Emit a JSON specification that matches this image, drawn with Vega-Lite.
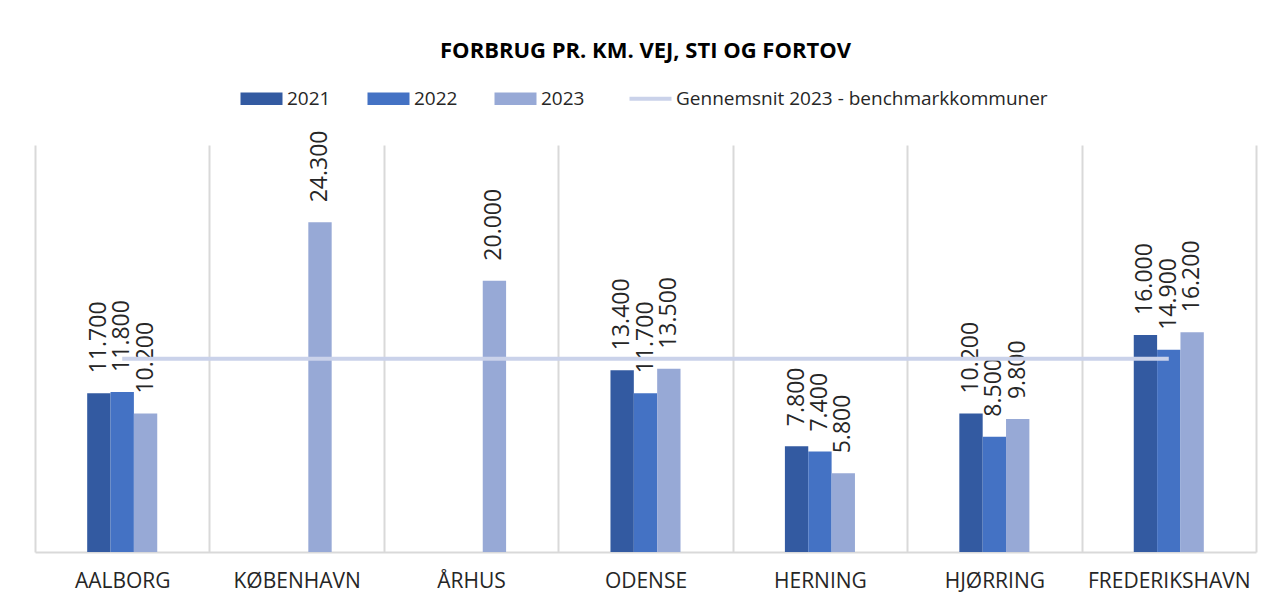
{
  "$schema": "https://vega.github.io/schema/vega-lite/v6.json",
  "autosize": "none",
  "width": 1221,
  "height": 407,
  "padding": {"left": 35, "top": 145, "right": 17, "bottom": 49},
  "background": "white",
  "title": {
    "text": "FORBRUG PR. KM. VEJ, STI OG FORTOV",
    "font": "Open Sans",
    "fontSize": 22,
    "fontWeight": "bold",
    "color": "#000000",
    "anchor": "middle",
    "offset": 26
  },
  "config": {
    "view": {"stroke": null},
    "locale": {"number": {"decimal": ",", "thousands": ".", "grouping": [3], "currency": ["", " kr."]}}
  },
  "datasets": {
    "bars": [
      {"kommune": "AALBORG", "year": "2021", "value": 11700},
      {"kommune": "AALBORG", "year": "2022", "value": 11800},
      {"kommune": "AALBORG", "year": "2023", "value": 10200},
      {"kommune": "KØBENHAVN", "year": "2023", "value": 24300},
      {"kommune": "ÅRHUS", "year": "2023", "value": 20000},
      {"kommune": "ODENSE", "year": "2021", "value": 13400},
      {"kommune": "ODENSE", "year": "2022", "value": 11700},
      {"kommune": "ODENSE", "year": "2023", "value": 13500},
      {"kommune": "HERNING", "year": "2021", "value": 7800},
      {"kommune": "HERNING", "year": "2022", "value": 7400},
      {"kommune": "HERNING", "year": "2023", "value": 5800},
      {"kommune": "HJØRRING", "year": "2021", "value": 10200},
      {"kommune": "HJØRRING", "year": "2022", "value": 8500},
      {"kommune": "HJØRRING", "year": "2023", "value": 9800},
      {"kommune": "FREDERIKSHAVN", "year": "2021", "value": 16000},
      {"kommune": "FREDERIKSHAVN", "year": "2022", "value": 14900},
      {"kommune": "FREDERIKSHAVN", "year": "2023", "value": 16200}
    ],
    "bench": [
      {"kommune": "AALBORG", "value": 14250},
      {"kommune": "KØBENHAVN", "value": 14250},
      {"kommune": "ÅRHUS", "value": 14250},
      {"kommune": "ODENSE", "value": 14250},
      {"kommune": "HERNING", "value": 14250},
      {"kommune": "HJØRRING", "value": 14250},
      {"kommune": "FREDERIKSHAVN", "value": 14250}
    ]
  },
  "encoding": {
    "x": {
      "field": "kommune",
      "type": "nominal",
      "sort": ["AALBORG", "KØBENHAVN", "ÅRHUS", "ODENSE", "HERNING", "HJØRRING", "FREDERIKSHAVN"],
      "scale": {"paddingInner": 0, "paddingOuter": 0},
      "axis": {
        "title": null,
        "tickBand": "extent",
        "grid": true,
        "gridColor": "#d9d9d9",
        "gridWidth": 2,
        "domainColor": "#d9d9d9",
        "domainWidth": 2,
        "ticks": false,
        "labelAngle": 0,
        "labelFont": "Open Sans",
        "labelFontSize": 21,
        "labelColor": "#262626",
        "labelPadding": 18
      }
    },
    "y": {
      "field": "value",
      "type": "quantitative",
      "scale": {"domain": [0, 30000], "nice": false},
      "axis": null
    }
  },
  "layer": [
    {
      "data": {"name": "bars"},
      "mark": {"type": "bar"},
      "encoding": {
        "xOffset": {
          "field": "year",
          "type": "nominal",
          "scale": {"domain": ["p1", "p2", "2021", "2022", "2023", "p3", "p4"], "paddingInner": 0, "paddingOuter": 0.235}
        },
        "color": {
          "field": "year",
          "type": "nominal",
          "scale": {
            "domain": ["2021", "2022", "2023", "Gennemsnit 2023 - benchmarkkommuner"],
            "range": ["#335AA1", "#4472C4", "#97A9D6", "#CAD2EA"]
          },
          "legend": {
            "title": null,
            "orient": "none",
            "direction": "horizontal",
            "legendX": 217,
            "legendY": -56,
            "padding": 0,
            "columnPadding": 36,
            "labelOffset": 16,
            "labelFont": "Open Sans",
            "labelFontSize": 19,
            "labelColor": "#262626",
            "labelLimit": 500,
            "symbolSize": 1764,
            "symbolType": "M-1,-0.3H1V0.3H-1Z",
            "encode": {
              "symbols": {
                "update": {
                  "shape": {"signal": "datum.value === 'Gennemsnit 2023 - benchmarkkommuner' ? 'M-1,0H1' : 'M-1,-0.3H1V0.3H-1Z'"},
                  "strokeWidth": {"signal": "datum.value === 'Gennemsnit 2023 - benchmarkkommuner' ? 4 : 0"},
                  "stroke": {"scale": "color", "field": "value"},
                  "fill": {"scale": "color", "field": "value"},
                  "opacity": {"value": 1},
                  "fillOpacity": {"value": 1},
                  "strokeOpacity": {"value": 1}
                }
              }
            }
          }
        }
      }
    },
    {
      "data": {"name": "bars"},
      "mark": {
        "type": "text",
        "angle": -90,
        "align": "left",
        "baseline": "middle",
        "dx": 20,
        "font": "Open Sans",
        "fontSize": 23,
        "color": "#262626"
      },
      "encoding": {
        "xOffset": {"field": "year", "type": "nominal"},
        "text": {"field": "value", "type": "quantitative", "format": ",.0f"}
      }
    },
    {
      "data": {"name": "bench"},
      "mark": {"type": "line", "strokeWidth": 4},
      "encoding": {
        "color": {"datum": "Gennemsnit 2023 - benchmarkkommuner"}
      }
    }
  ]
}
